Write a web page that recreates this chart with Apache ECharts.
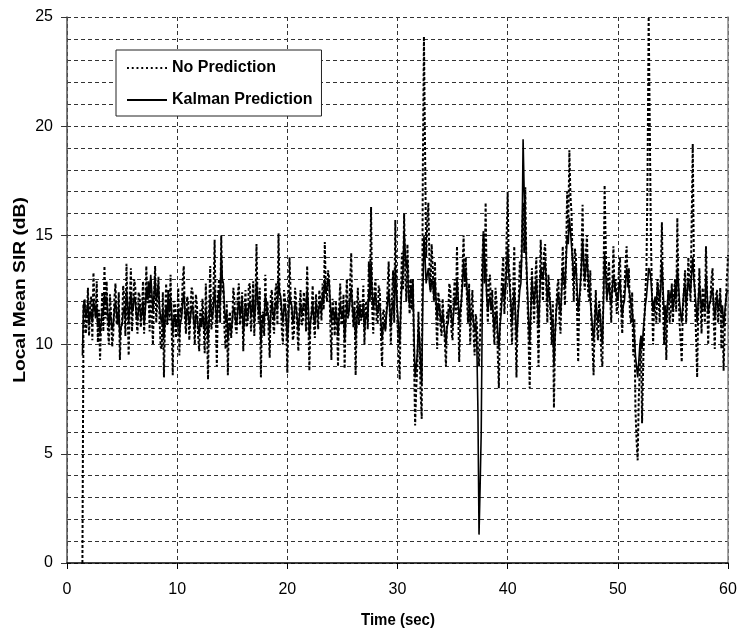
<!DOCTYPE html>
<html>
<head>
<meta charset="utf-8">
<script src="https://cdn.jsdelivr.net/npm/echarts@6/dist/echarts.min.js"></script>
<style>
html,body{margin:0;padding:0;background:#fff;}
#chart{width:741px;height:639px;}
</style>
</head>
<body>
<div id="chart"></div>
<script>
// Sampling grid of the recorded traces (seconds)
const T_START = 1.4;
const T_STEP = 0.1;

// Local mean SIR (dB) without prediction (dotted trace), one row = 2 s
const noPrediction = [
  0, 11.8, 12.1, 10.5, 11.0, 12.6, 10.4, 11.8, 12.2, 10.2, 13.3, 11.9, 11.2, 12.9, 10.1, 11.6, 9.3, 11.0, 12.4, 10.6,
  13.6, 11.2, 12.9, 10.8, 10.0, 12.3, 11.4, 9.9, 10.5, 12.1, 12.8, 11.0, 10.9, 12.4, 9.3, 10.8, 11.0, 12.7, 12.2, 10.4,
  13.7, 11.6, 9.5, 12.0, 13.5, 10.6, 11.8, 13.0, 12.6, 11.1, 10.5, 12.4, 12.2, 10.8, 11.5, 12.9, 10.5, 11.7, 13.6, 11.9,
  12.5, 10.6, 13.0, 11.4, 10.0, 12.2, 13.6, 11.0, 12.0, 13.1, 11.2, 9.9, 9.8, 12.4, 8.5, 11.3, 12.8, 10.9, 12.5, 11.1,
  13.2, 10.8, 8.6, 12.0, 11.8, 10.3, 11.0, 12.6, 9.5, 11.7, 11.4, 12.9, 13.6, 11.2, 10.5, 12.2, 12.0, 10.2, 11.3, 12.6,
  12.5, 11.0, 10.0, 12.3, 11.8, 10.4, 9.7, 11.6, 10.8, 12.1, 11.0, 9.6, 12.8, 10.9, 8.4, 11.5, 13.6, 10.7, 11.0, 12.5,
  14.8, 11.3, 9.0, 12.2, 13.0, 11.0, 15.0, 12.4, 12.5, 10.6, 9.8, 12.0, 8.6, 11.2, 11.5, 10.3, 11.0, 12.6, 12.0, 10.8,
  10.5, 12.3, 12.8, 10.9, 11.5, 12.4, 9.7, 11.3, 12.5, 10.8, 11.0, 12.7, 12.8, 10.6, 11.6, 12.9, 10.4, 11.8, 14.6, 12.0,
  11.0, 12.6, 8.5, 11.4, 11.5, 10.4, 13.2, 11.3, 12.0, 10.6, 9.4, 12.3, 12.5, 11.0, 10.5, 12.4, 12.8, 10.9, 15.1, 12.2,
  12.0, 10.7, 10.0, 12.5, 12.0, 11.0, 8.7, 11.4, 14.0, 12.3, 11.5, 10.2, 10.5, 12.6, 12.0, 10.8, 9.7, 11.6, 12.5, 10.9,
  11.0, 12.4, 12.0, 10.6, 13.6, 11.4, 8.8, 11.1, 11.5, 12.7, 11.0, 10.3, 12.3, 11.5, 10.7, 12.5, 12.0, 11.1, 12.8, 11.6,
  14.7, 12.4, 12.0, 13.4, 13.0, 11.0, 9.3, 12.1, 11.5, 10.4, 12.0, 11.2, 9.0, 11.7, 12.8, 10.9, 11.0, 12.3, 8.9, 11.4,
  13.0, 11.2, 11.5, 12.8, 14.2, 11.6, 10.8, 12.0, 8.6, 11.3, 12.6, 10.9, 12.0, 11.1, 11.4, 12.7, 10.0, 11.8, 12.0, 10.7,
  13.8, 12.2, 16.3, 11.7, 10.5, 12.5, 13.0, 11.1, 11.0, 12.7, 12.4, 10.4, 9.0, 11.6, 11.5, 10.7, 11.5, 12.6, 13.8, 11.5,
  10.0, 12.2, 13.4, 11.0, 15.7, 12.6, 11.0, 9.6, 8.4, 12.0, 14.2, 12.5, 16.0, 13.4, 12.0, 14.6, 12.8, 11.4, 13.0, 11.6,
  13.0, 9.4, 6.3, 8.0, 9.0, 11.5, 10.0, 7.8, 6.6, 18.0, 24.1, 19.0, 14.0, 15.5, 16.5, 13.8, 12.5, 14.6, 13.5, 12.0,
  13.8, 11.5, 9.8, 12.4, 12.0, 10.9, 10.4, 12.1, 11.0, 10.1, 9.0, 11.5, 11.2, 12.8, 12.5, 10.6, 10.2, 12.2, 13.0, 11.4,
  14.5, 11.8, 9.2, 11.0, 12.0, 13.4, 15.0, 12.6, 14.0, 12.2, 11.0, 12.8, 10.0, 11.6, 12.5, 10.6, 9.5, 11.4, 11.0, 9.8,
  9.0, 10.5, 12.0, 13.8, 15.2, 12.8, 16.5, 12.4, 11.0, 12.9, 13.2, 11.4, 12.5, 10.8, 10.0, 12.6, 11.8, 9.6, 8.0, 11.0,
  12.0, 13.2, 14.0, 11.4, 12.5, 14.8, 17.0, 13.6, 13.0, 11.2, 10.0, 12.5, 14.5, 11.0, 8.5, 11.3, 12.0, 13.8, 13.0, 15.0,
  16.5, 14.2, 17.2, 13.6, 12.0, 10.2, 8.0, 11.5, 13.5, 12.2, 11.0, 12.8, 14.0, 11.6, 9.0, 12.3, 14.8, 13.2, 12.0, 14.2,
  14.6, 12.8, 11.0, 13.2, 12.5, 11.3, 10.0, 12.0, 7.1, 10.4, 11.5, 12.6, 13.0, 11.2, 10.5, 12.8, 14.5, 13.0, 11.8, 14.0,
  17.0, 15.2, 18.9, 16.8, 16.0, 13.5, 12.0, 14.4, 14.0, 11.5, 9.2, 12.0, 12.5, 14.0, 16.4, 13.2, 12.5, 14.2, 15.0, 12.4,
  12.0, 13.4, 11.0, 10.0, 8.6, 11.2, 12.5, 10.8, 10.2, 12.0, 11.5, 9.4, 9.0, 12.8, 17.3, 14.6, 12.0, 13.1, 13.8, 12.2,
  11.0, 12.8, 14.5, 12.4, 13.0, 11.4, 12.0, 13.5, 14.0, 11.6, 10.5, 12.2, 12.5, 13.8, 14.5, 12.6, 13.5, 11.4, 11.0, 12.4,
  9.5, 11.2, 7.0, 5.6, 4.7, 7.5, 9.0, 10.4, 6.4, 9.0, 11.0, 12.4, 13.5, 18.0, 25.0, 20.0, 15.0, 12.2, 10.0, 12.0,
  12.0, 11.0, 13.0, 12.2, 11.0, 13.4, 15.6, 12.0, 10.0, 11.6, 9.3, 11.8, 12.5, 11.0, 11.5, 12.8, 11.0, 12.4, 13.0, 11.5,
  15.8, 12.6, 11.0, 10.2, 9.2, 11.6, 12.5, 13.4, 11.0, 12.2, 14.0, 12.8, 12.0, 15.5, 19.2, 14.0, 12.0, 10.4, 8.5, 11.6,
  13.5, 12.0, 10.5, 12.6, 12.0, 11.0, 14.5, 12.4, 10.0, 11.8, 12.0, 13.0, 13.5, 11.2, 9.8, 12.2, 12.5, 11.0, 11.0, 12.6,
  9.8, 11.5, 8.8, 10.6, 12.0, 13.0, 14.1
];

// Local mean SIR (dB) with Kalman prediction (solid trace), one row = 2 s
const kalmanPrediction = [
  9.5, 11.8, 12.0, 11.2, 11.6, 11.9, 10.9, 11.4, 11.5, 11.0, 12.0, 11.7, 11.3, 11.8, 10.8, 11.2, 10.5, 11.0, 11.6, 11.3,
  12.4, 11.8, 12.2, 11.4, 10.8, 11.5, 11.2, 10.7, 10.9, 11.6, 12.0, 11.4, 11.0, 11.7, 10.3, 10.8, 10.9, 11.5, 11.7, 11.2,
  12.5, 11.9, 11.0, 11.8, 12.4, 11.5, 11.6, 12.2, 12.0, 11.3, 11.1, 11.7, 11.8, 11.2, 11.4, 12.0, 10.9, 11.5, 12.6, 12.1,
  12.9, 12.2, 13.2, 12.4, 11.5, 12.3, 13.1, 12.0, 12.3, 12.8, 11.7, 11.2, 11.0, 11.6, 10.3, 11.2, 11.8, 11.3, 12.0, 11.6,
  12.2, 11.4, 10.5, 11.2, 11.3, 10.8, 11.0, 11.6, 10.4, 11.0, 11.2, 11.9, 12.4, 11.6, 11.0, 11.6, 11.5, 10.9, 11.2, 11.7,
  11.8, 11.1, 10.7, 11.4, 11.3, 10.8, 10.5, 11.2, 10.8, 11.4, 11.0, 10.6, 11.6, 11.0, 10.2, 11.1, 12.2, 11.4, 11.2, 11.8,
  12.6, 11.6, 11.0, 11.9, 12.5, 11.8, 14.2, 13.0, 12.8, 11.6, 11.0, 11.5, 10.2, 10.8, 11.0, 10.6, 11.0, 11.7, 11.6, 11.1,
  10.9, 11.6, 12.0, 11.3, 11.6, 12.1, 10.5, 11.1, 11.9, 11.4, 11.2, 11.8, 12.0, 11.3, 11.6, 12.2, 11.0, 11.7, 12.9, 12.2,
  11.4, 11.9, 10.0, 10.9, 11.4, 11.0, 12.3, 11.8, 11.8, 11.2, 10.5, 11.4, 12.0, 11.5, 11.1, 11.8, 12.0, 11.6, 13.0, 12.4,
  12.2, 11.5, 11.0, 11.7, 11.8, 11.2, 10.2, 11.0, 12.4, 11.9, 11.8, 11.0, 11.2, 11.9, 11.7, 11.2, 10.6, 11.3, 11.9, 11.4,
  11.4, 11.9, 11.8, 11.3, 12.5, 11.8, 10.3, 11.0, 11.4, 11.9, 11.2, 10.9, 11.9, 11.5, 11.3, 11.8, 11.9, 11.5, 12.4, 12.0,
  13.0, 12.4, 12.6, 13.0, 12.8, 11.9, 11.0, 11.6, 11.5, 11.0, 11.6, 11.2, 10.4, 11.3, 11.9, 11.4, 11.2, 11.7, 10.2, 11.0,
  12.0, 11.4, 11.5, 12.1, 12.6, 11.8, 11.2, 11.6, 10.2, 11.0, 11.8, 11.3, 11.7, 11.2, 11.3, 11.9, 10.6, 11.2, 11.5, 11.1,
  12.5, 12.0, 13.8, 12.4, 11.6, 12.1, 12.4, 11.6, 11.4, 11.9, 11.8, 11.0, 10.2, 10.9, 11.0, 10.6, 11.4, 11.9, 12.5, 11.6,
  10.8, 11.6, 12.0, 11.4, 13.6, 12.4, 11.5, 10.8, 10.0, 11.6, 12.8, 13.4, 15.2, 14.2, 13.5, 13.9, 12.2, 11.8, 12.6, 12.2,
  12.8, 10.4, 8.5, 9.0, 9.6, 10.8, 10.3, 9.0, 8.2, 12.0, 15.0, 14.0, 12.8, 13.2, 13.5, 12.8, 12.4, 13.0, 12.8, 12.2,
  13.0, 12.0, 11.2, 11.9, 11.8, 11.2, 11.0, 11.5, 11.0, 10.5, 10.0, 10.8, 11.0, 11.6, 11.8, 11.2, 10.8, 11.5, 12.2, 11.8,
  13.0, 12.2, 11.0, 11.6, 12.0, 12.8, 13.8, 13.0, 13.4, 12.6, 12.0, 12.4, 11.0, 11.4, 11.5, 11.0, 10.6, 11.0, 10.0, 7.0,
  1.3, 3.5, 6.0, 12.0, 15.0, 14.0, 13.5, 12.2, 11.5, 12.0, 12.2, 11.6, 12.0, 11.2, 10.6, 11.4, 11.5, 10.5, 9.8, 10.8,
  11.4, 12.2, 12.8, 12.0, 12.5, 13.5, 14.5, 13.2, 12.5, 11.8, 11.0, 11.8, 12.5, 11.5, 10.2, 11.0, 11.8, 12.5, 12.8, 14.5,
  19.4, 17.0, 15.5, 13.8, 12.5, 11.2, 10.0, 11.5, 13.0, 12.4, 11.8, 12.5, 13.0, 12.0, 10.8, 12.0, 13.5, 13.2, 13.0, 13.6,
  13.8, 13.0, 12.0, 12.6, 12.2, 11.6, 11.0, 11.2, 9.0, 10.4, 11.5, 12.0, 12.4, 11.8, 11.4, 12.4, 13.5, 13.0, 12.6, 13.8,
  15.0, 14.6, 15.8, 15.2, 14.5, 13.8, 13.0, 13.4, 13.6, 12.6, 11.5, 12.0, 12.8, 13.6, 14.8, 13.8, 13.0, 13.5, 14.0, 13.2,
  12.5, 12.0, 11.4, 10.8, 10.2, 11.0, 12.0, 11.4, 11.0, 11.6, 11.4, 10.6, 10.0, 12.0, 14.2, 13.2, 12.2, 12.4, 12.8, 12.2,
  11.8, 12.6, 13.2, 12.8, 12.8, 12.2, 12.0, 12.6, 13.0, 12.0, 11.3, 11.8, 12.0, 12.8, 13.5, 13.0, 13.0, 12.2, 11.8, 11.6,
  11.0, 10.4, 9.5, 9.0, 8.5, 9.2, 10.0, 10.4, 9.8, 10.6, 11.2, 11.8, 12.2, 12.8, 13.5, 13.4, 13.0, 12.2, 11.5, 12.0,
  12.2, 11.8, 12.8, 12.4, 12.0, 12.6, 13.8, 12.6, 11.5, 11.8, 11.0, 11.8, 12.5, 12.0, 12.0, 12.6, 11.6, 12.0, 12.6, 12.2,
  13.5, 12.8, 12.0, 11.4, 11.0, 11.8, 12.5, 12.8, 11.8, 12.4, 13.0, 12.6, 12.4, 13.2, 14.0, 13.0, 12.4, 11.8, 11.0, 12.0,
  12.8, 12.2, 11.5, 12.0, 12.0, 11.6, 13.2, 12.4, 11.4, 11.8, 12.0, 12.4, 12.6, 11.8, 11.2, 11.9, 12.2, 11.6, 11.8, 12.2,
  11.4, 11.8, 10.8, 11.4, 12.0, 12.4, 12.5
];

const seriesNames = ['No Prediction', 'Kalman Prediction'];
const xTitle = 'Time (sec)';
const yTitle = 'Local Mean SIR (dB)';

function pairs(vals) {
  return vals.map((v, i) => [+(T_START + i * T_STEP).toFixed(2), v]);
}

const FONT = '"Liberation Sans", Arial, sans-serif';
const gridDash = { color: '#333', width: 1, type: [4, 3] };
const dottedIcon = 'path://M0,0h2v2h-2z M5,0h2v2h-2z M10,0h2v2h-2z M15,0h2v2h-2z M20,0h2v2h-2z M25,0h2v2h-2z M30,0h2v2h-2z M35,0h2v2h-2z M40,0h2v2h-2z';
const solidIcon = 'path://M0,0h40v2h-40z';

const chart = echarts.init(document.getElementById('chart'), null, { renderer: 'canvas' });
chart.setOption({
  animation: false,
  backgroundColor: '#fff',
  textStyle: { fontFamily: FONT },
  grid: { left: 67, right: 13, top: 17, bottom: 76, containLabel: false },
  legend: {
    orient: 'vertical',
    left: 116, top: 50,
    padding: [9, 9, 7, 11],
    itemWidth: 40, itemHeight: 2, itemGap: 14,
    backgroundColor: '#fff',
    borderColor: '#222', borderWidth: 1,
    textStyle: { fontFamily: FONT, fontSize: 16, fontWeight: 'bold', color: '#000', lineHeight: 18 },
    data: [
      { name: seriesNames[0], icon: dottedIcon, itemStyle: { color: '#000' } },
      { name: seriesNames[1], icon: solidIcon, itemStyle: { color: '#000' } }
    ]
  },
  graphic: [{
    type: 'text', x: 21, y: 290, rotation: Math.PI / 2, scaleX: 1.2,
    style: { text: yTitle, fill: '#000', font: 'bold 16px "Liberation Sans", Arial, sans-serif', align: 'center', verticalAlign: 'middle' }
  }, {
    type: 'text', x: 398, y: 620, scaleY: 1.15,
    style: { text: xTitle, fill: '#000', font: 'bold 15px "Liberation Sans", Arial, sans-serif', align: 'center', verticalAlign: 'middle' }
  }],
  xAxis: {
    type: 'value', min: 0, max: 60, interval: 10,
    axisLine: { show: true, onZero: false, lineStyle: { color: '#000', width: 1.5 } },
    axisTick: { show: true, inside: false, length: 6, lineStyle: { color: '#000' } },
    axisLabel: { fontFamily: FONT, fontSize: 16, color: '#000', margin: 19 },
    splitLine: { show: true, lineStyle: gridDash }
  },
  yAxis: [{
    type: 'value', min: 0, max: 25, interval: 5,
    axisLine: { show: true, lineStyle: { color: '#555', width: 1.5 } },
    axisTick: { show: true, inside: false, length: 6, lineStyle: { color: '#333' } },
    axisLabel: { fontFamily: FONT, fontSize: 16, color: '#000', margin: 14 },
    splitLine: { show: true, lineStyle: gridDash },
    minorTick: { show: false, splitNumber: 5 },
    minorSplitLine: { show: true, lineStyle: gridDash }
  }, {
    type: 'value', min: 0, max: 25, interval: 5, position: 'right',
    axisLine: { show: true, lineStyle: { color: '#888', width: 1.5 } },
    axisTick: { show: false }, axisLabel: { show: false }, splitLine: { show: false }
  }],
  series: [{
    name: seriesNames[0],
    type: 'line',
    data: pairs(noPrediction),
    showSymbol: false, symbol: 'none',
    lineStyle: { color: '#000', width: 2, type: [3, 2] },
    itemStyle: { color: '#000' },
    z: 3
  }, {
    name: seriesNames[1],
    type: 'line',
    data: pairs(kalmanPrediction),
    showSymbol: false, symbol: 'none',
    lineStyle: { color: '#000', width: 1.6, type: 'solid' },
    itemStyle: { color: '#000' },
    z: 2
  }]
});
</script>
</body>
</html>
